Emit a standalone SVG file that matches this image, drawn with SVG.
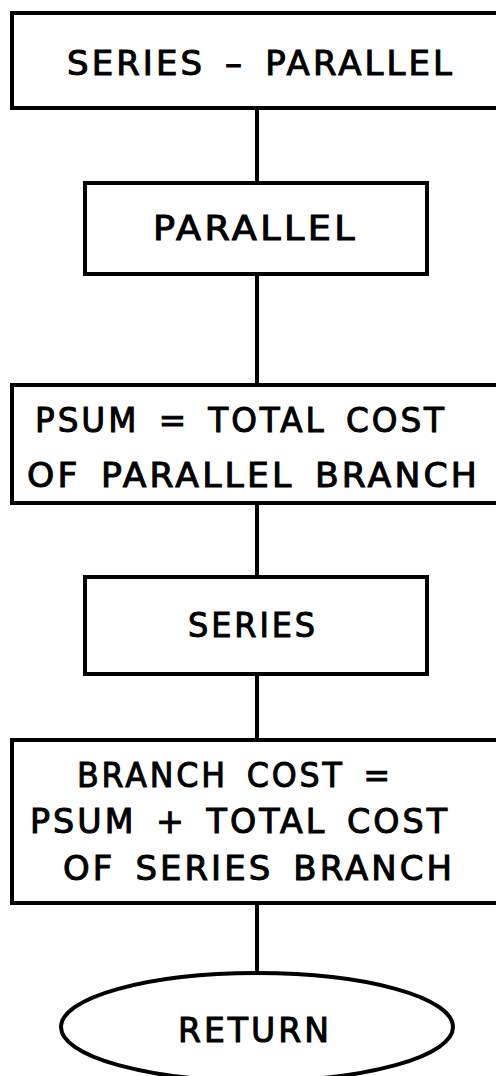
<svg xmlns="http://www.w3.org/2000/svg" width="496" height="1076" viewBox="0 0 496 1076">
<style>
.box{fill:#fff;stroke:#000;stroke-width:4}
.ln{stroke:#000;stroke-width:4;fill:none}
text{font-family:"DejaVu Sans","Liberation Sans",sans-serif;font-size:33px;letter-spacing:3px;word-spacing:6px;fill:#000;stroke:#000;stroke-width:1px}
</style>
<rect width="496" height="1076" fill="#fff"/>
<g id="connectors">
<line class="ln" x1="257" y1="108" x2="257" y2="183"/>
<line class="ln" x1="257" y1="274" x2="257" y2="385"/>
<line class="ln" x1="257" y1="503" x2="257" y2="577"/>
<line class="ln" x1="257" y1="674" x2="257" y2="740"/>
<line class="ln" x1="257" y1="903" x2="257" y2="973"/>
</g>
<g id="n1">
<rect class="box" x="12" y="13" width="510" height="95"/>
<text x="67" y="75" textLength="388" lengthAdjust="spacingAndGlyphs">SERIES – PARALLEL</text>
</g>
<g id="n2">
<rect class="box" x="85" y="183" width="342" height="91"/>
<text x="153" y="240" textLength="205" lengthAdjust="spacingAndGlyphs">PARALLEL</text>
</g>
<g id="n3">
<rect class="box" x="12" y="385" width="510" height="118"/>
<text x="35" y="432" textLength="412" lengthAdjust="spacingAndGlyphs">PSUM = TOTAL COST</text>
<text x="27" y="487" textLength="453" lengthAdjust="spacingAndGlyphs">OF PARALLEL BRANCH</text>
</g>
<g id="n4">
<rect class="box" x="85" y="577" width="342" height="97"/>
<text x="188" y="637" textLength="130" lengthAdjust="spacingAndGlyphs">SERIES</text>
</g>
<g id="n5">
<rect class="box" x="12" y="740" width="510" height="163"/>
<text x="77" y="787" textLength="316" lengthAdjust="spacingAndGlyphs">BRANCH COST =</text>
<text x="30" y="833" textLength="420" lengthAdjust="spacingAndGlyphs">PSUM + TOTAL COST</text>
<text x="63" y="880" textLength="392" lengthAdjust="spacingAndGlyphs">OF SERIES BRANCH</text>
</g>
<g id="n6">
<ellipse class="box" cx="257" cy="1027" rx="196" ry="54"/>
<text x="178" y="1042" textLength="154" lengthAdjust="spacingAndGlyphs">RETURN</text>
</g>
</svg>
